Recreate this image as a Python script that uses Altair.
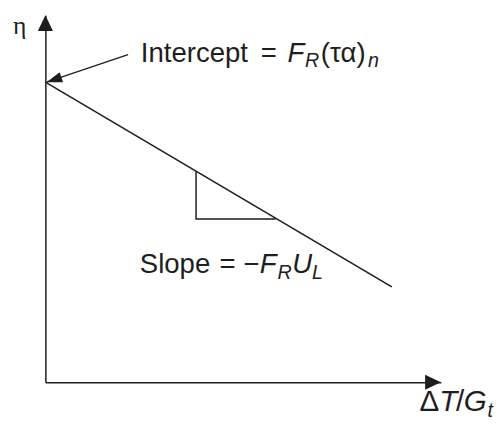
import altair as alt
import pandas as pd

# ---- data (schematic, abstract units) ----
line_x = [0.0, 8.76]
line_y = [0.818, 0.260]
tri_x = [3.81, 3.81, 5.82]
tri_y = [0.575, 0.445, 0.445]
arrow_x = [2.09, 0.03]
arrow_y = [0.893, 0.818]
x_end = 10.0
y_end = 1.0

intercept_anchor = (2.413, 0.874)
slope_anchor = (2.388, 0.298)
eta_anchor = (-0.82, 0.948)
xlab_anchor = (9.46, -0.078)

INK = "#1e1e1e"
FONT = "Liberation Sans"

xs = alt.Scale(domain=[0, x_end], nice=False, zero=False)
ys = alt.Scale(domain=[0, y_end], nice=False, zero=False)
axis_style = dict(ticks=False, labels=False, grid=False, title=None,
                  domain=True, domainColor=INK, domainWidth=1.5)
X = alt.X("x:Q", scale=xs, axis=alt.Axis(**axis_style))
Y = alt.Y("y:Q", scale=ys, axis=alt.Axis(**axis_style))

def df(xv, yv, **extra):
    d = {"x": list(xv), "y": list(yv)}
    d.update(extra)
    return pd.DataFrame(d)

main_line = alt.Chart(df(line_x, line_y)).mark_line(color=INK, strokeWidth=1.6).encode(x=X, y=Y)
tri = alt.Chart(df(tri_x, tri_y, o=[0, 1, 2])).mark_line(color=INK, strokeWidth=1.5).encode(
    x=X, y=Y, order="o:Q")
ann = alt.Chart(df(arrow_x, arrow_y)).mark_line(color=INK, strokeWidth=1.3).encode(x=X, y=Y)

HEAD = "M0,0 L-0.48,1 L0.48,1 Z"
HEAD_NARROW = "M0,0 L-0.34,1 L0.34,1 Z"

def head(px, py, ang, shape, size):
    return alt.Chart(df([px], [py])).mark_point(
        shape=shape, filled=True, size=size, angle=ang, color=INK, opacity=1, strokeWidth=0
    ).encode(x=X, y=Y)

heads = [
    head(0, y_end, 0, HEAD, 1024),
    head(x_end, 0, 90, HEAD, 1024),
    head(arrow_x[1], arrow_y[1], 251.6, HEAD_NARROW, 1000),
]

def seg(anchor, text, dx, dy=0, size=28, style="normal", font=FONT):
    return alt.Chart(df([anchor[0]], [anchor[1]], t=[text])).mark_text(
        align="left", baseline="alphabetic", dx=dx, dy=dy, fontSize=size,
        fontStyle=style, font=font, color=INK
    ).encode(x=X, y=Y, text="t:N")

texts = [
    # Intercept = F_R(τα)_n
    seg(intercept_anchor, "Intercept", 0),
    seg(intercept_anchor, "=", 122),
    seg(intercept_anchor, "F", 149, style="italic"),
    seg(intercept_anchor, "R", 167, dy=6, size=20, style="italic"),
    seg(intercept_anchor, "(τα)", 183),
    seg(intercept_anchor, "n", 231, dy=6, size=20, style="italic"),
    # Slope = −F_R U_L
    seg(slope_anchor, "Slope", 0),
    seg(slope_anchor, "=", 81),
    seg(slope_anchor, "\u2212", 105),
    seg(slope_anchor, "F", 122, style="italic"),
    seg(slope_anchor, "R", 140, dy=6, size=20, style="italic"),
    seg(slope_anchor, "U", 155, style="italic"),
    seg(slope_anchor, "L", 175, dy=6, size=20, style="italic"),
    # axis labels
    seg(eta_anchor, "η", 0, size=26, font="Liberation Serif"),
    seg(xlab_anchor, "Δ", 0, size=30),
    seg(xlab_anchor, "T", 20, size=30, style="italic"),
    seg(xlab_anchor, "/", 37, size=30),
    seg(xlab_anchor, "G", 45, size=30, style="italic"),
    seg(xlab_anchor, "t", 69, dy=6, size=20, style="italic"),
]

chart = alt.layer(main_line, tri, ann, *heads, *texts).properties(
    width=402, height=373,
    autosize=alt.AutoSizeParams(type="none"),
    padding={"left": 38, "top": 4, "right": 54, "bottom": 45},
    background="white",
).configure_view(stroke=None)

chart.save("out.html", embed_options={"renderer": "svg", "actions": False})
